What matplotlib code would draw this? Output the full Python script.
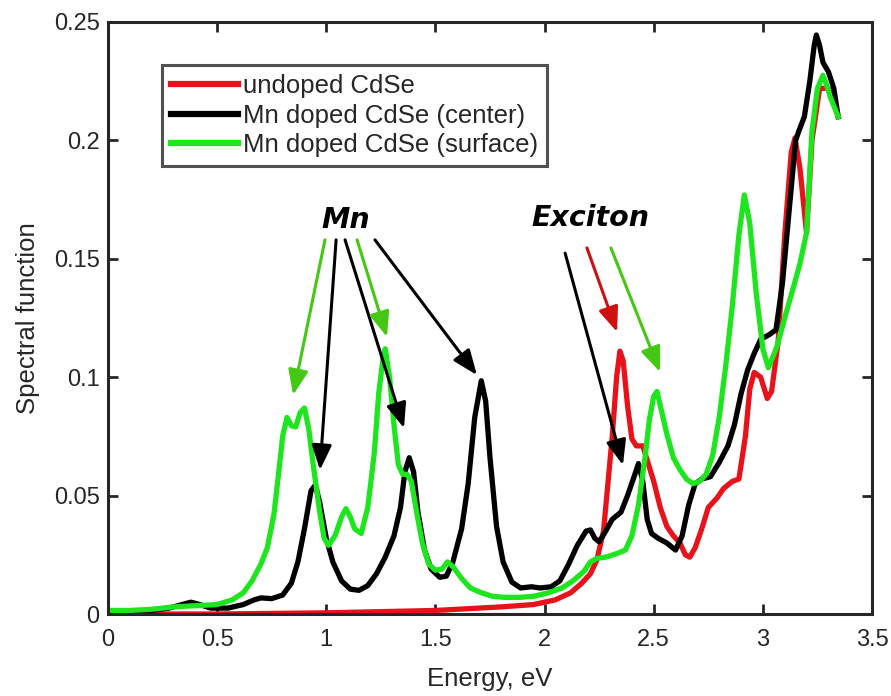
import matplotlib
matplotlib.use("Agg")
import matplotlib.pyplot as plt
from matplotlib.ticker import FuncFormatter

# --- data ---
undoped_x = [0.00, 0.50, 1.00, 1.50, 1.80, 1.95, 2.05, 2.12, 2.17, 2.21, 2.24, 2.27,
             2.29, 2.31, 2.33, 2.345, 2.36, 2.38, 2.40, 2.42, 2.45, 2.47, 2.50, 2.53,
             2.56, 2.59, 2.62, 2.645, 2.665, 2.69, 2.72, 2.75, 2.79, 2.82, 2.86, 2.89,
             2.92, 2.94, 2.96, 2.99, 3.02, 3.04, 3.07, 3.10, 3.13, 3.147, 3.17, 3.19,
             3.20, 3.225, 3.26, 3.30, 3.345]
undoped_y = [0.0, 0.0, 0.0005, 0.0015, 0.003, 0.004, 0.006, 0.009, 0.013, 0.017, 0.023, 0.035,
             0.055, 0.075, 0.100, 0.111, 0.107, 0.088, 0.074, 0.071, 0.071, 0.065, 0.056, 0.045,
             0.037, 0.033, 0.030, 0.025, 0.024, 0.028, 0.036, 0.045, 0.049, 0.053, 0.056, 0.057,
             0.075, 0.095, 0.102, 0.100, 0.091, 0.094, 0.115, 0.160, 0.195, 0.201, 0.188, 0.170,
             0.161, 0.200, 0.222, 0.222, 0.210]

center_x = [0.00, 0.10, 0.20, 0.28, 0.34, 0.38, 0.42, 0.47, 0.55, 0.62, 0.67, 0.70, 0.75,
            0.80, 0.84, 0.87, 0.90, 0.93, 0.95, 0.97, 1.00, 1.03, 1.07, 1.11, 1.15, 1.19,
            1.23, 1.27, 1.31, 1.34, 1.36, 1.38, 1.40, 1.42, 1.45, 1.48, 1.52, 1.55, 1.58,
            1.62, 1.65, 1.68, 1.71, 1.73, 1.75, 1.78, 1.81, 1.85, 1.89, 1.94, 1.98, 2.03,
            2.07, 2.11, 2.15, 2.19, 2.21, 2.23, 2.25, 2.28, 2.31, 2.35, 2.38, 2.41, 2.43,
            2.45, 2.47, 2.49, 2.52, 2.56, 2.60, 2.63, 2.66, 2.69, 2.72, 2.76, 2.80, 2.84,
            2.87, 2.90, 2.93, 2.96, 2.99, 3.03, 3.06, 3.09, 3.11, 3.135, 3.15, 3.165, 3.19,
            3.215, 3.235, 3.245, 3.26, 3.275, 3.30, 3.325, 3.345]
center_y = [0.001, 0.001, 0.0015, 0.0025, 0.004, 0.005, 0.004, 0.0025, 0.0025, 0.004, 0.006, 0.0068, 0.0065,
            0.008, 0.013, 0.022, 0.036, 0.052, 0.0545, 0.047, 0.032, 0.022, 0.014, 0.0105, 0.010, 0.012,
            0.017, 0.024, 0.033, 0.045, 0.060, 0.066, 0.060, 0.043, 0.027, 0.019, 0.0155, 0.016, 0.022,
            0.036, 0.055, 0.083, 0.0985, 0.090, 0.066, 0.037, 0.022, 0.0135, 0.011, 0.0115, 0.011, 0.0115,
            0.014, 0.021, 0.029, 0.035, 0.0355, 0.032, 0.0305, 0.035, 0.040, 0.043, 0.050, 0.058, 0.0635,
            0.056, 0.040, 0.034, 0.032, 0.030, 0.027, 0.033, 0.046, 0.055, 0.057, 0.058, 0.064, 0.071,
            0.080, 0.093, 0.103, 0.110, 0.116, 0.118, 0.120, 0.140, 0.160, 0.185, 0.200, 0.204, 0.210,
            0.225, 0.240, 0.2445, 0.240, 0.233, 0.229, 0.222, 0.210]

surface_x = [0.00, 0.10, 0.20, 0.30, 0.40, 0.50, 0.57, 0.62, 0.66, 0.70, 0.73, 0.76, 0.78,
             0.80, 0.82, 0.84, 0.86, 0.88, 0.90, 0.92, 0.94, 0.97, 0.99, 1.01, 1.04, 1.07,
             1.09, 1.11, 1.13, 1.16, 1.19, 1.22, 1.24, 1.26, 1.27, 1.29, 1.31, 1.33, 1.35,
             1.37, 1.39, 1.41, 1.44, 1.47, 1.50, 1.53, 1.555, 1.58, 1.62, 1.66, 1.71, 1.76,
             1.82, 1.88, 1.95, 2.02, 2.08, 2.13, 2.18, 2.21, 2.24, 2.28, 2.33, 2.37, 2.40,
             2.43, 2.46, 2.48, 2.50, 2.515, 2.53, 2.56, 2.59, 2.62, 2.65, 2.68, 2.71, 2.74,
             2.77, 2.80, 2.83, 2.86, 2.89, 2.915, 2.94, 2.97, 3.00, 3.025, 3.065, 3.10, 3.14,
             3.17, 3.20, 3.225, 3.25, 3.275, 3.29, 3.31, 3.345]
surface_y = [0.0015, 0.0015, 0.002, 0.003, 0.0035, 0.004, 0.006, 0.009, 0.014, 0.021, 0.028, 0.042, 0.058,
             0.075, 0.083, 0.0795, 0.079, 0.085, 0.087, 0.078, 0.063, 0.043, 0.032, 0.029, 0.033, 0.041,
             0.0445, 0.041, 0.036, 0.034, 0.045, 0.068, 0.093, 0.108, 0.112, 0.100, 0.080, 0.063, 0.059,
             0.059, 0.056, 0.045, 0.030, 0.021, 0.0185, 0.019, 0.022, 0.020, 0.015, 0.011, 0.009, 0.0075,
             0.007, 0.007, 0.0075, 0.009, 0.011, 0.014, 0.018, 0.022, 0.0235, 0.024, 0.0255, 0.027, 0.033,
             0.046, 0.066, 0.082, 0.092, 0.094, 0.088, 0.076, 0.066, 0.061, 0.057, 0.055, 0.056, 0.059,
             0.067, 0.083, 0.105, 0.130, 0.160, 0.177, 0.165, 0.135, 0.112, 0.104, 0.113, 0.125, 0.138,
             0.148, 0.161, 0.204, 0.222, 0.2275, 0.224, 0.218, 0.210]

labels = ["undoped CdSe", "Mn doped CdSe (center)", "Mn doped CdSe (surface)"]
line_colors = ["#e8121a", "#000000", "#1ee61e"]

# annotation arrows: (start x, start y, tip x, tip y, colour)
mn_label = (1.09, 0.1664)
mn_arrows = [
    (0.994, 0.158, 0.848, 0.0925, "#44c814"),
    (1.045, 0.158, 0.971, 0.0608, "#000000"),
    (1.086, 0.158, 1.356, 0.0785, "#000000"),
    (1.141, 0.158, 1.278, 0.1170, "#44c814"),
    (1.223, 0.158, 1.690, 0.1009, "#000000"),
]
exciton_label = (2.208, 0.1672)
exciton_arrows = [
    (2.094, 0.1524, 2.359, 0.0629, "#000000"),
    (2.194, 0.1546, 2.332, 0.1191, "#d01010"),
    (2.304, 0.1546, 2.529, 0.1022, "#44c814"),
]

plt.rcParams['font.family'] = ['Liberation Sans', 'DejaVu Sans']

fig = plt.figure(figsize=(8.91, 6.96), dpi=100)
ax = fig.add_axes([0.1212, 0.1178, 0.8575, 0.8506])

for xs, ys, lab, col in zip([undoped_x, center_x, surface_x],
                            [undoped_y, center_y, surface_y], labels, line_colors):
    ax.plot(xs, ys, color=col, lw=3.8, label=lab, solid_joinstyle='round')

ax.set_xlim(0, 3.5)
ax.set_ylim(0, 0.25)
ax.set_xticks([0, 0.5, 1, 1.5, 2, 2.5, 3, 3.5])
ax.set_yticks([0, 0.05, 0.1, 0.15, 0.2, 0.25])
fmt = FuncFormatter(lambda v, p: f"{v:g}")
ax.xaxis.set_major_formatter(fmt)
ax.yaxis.set_major_formatter(fmt)
ax.tick_params(direction='in', top=True, right=True, length=7, width=2,
               labelsize=17, labelcolor='#262626', color='#262626')
ax.tick_params(axis='x', pad=11)
ax.tick_params(axis='y', pad=6)
for s in ax.spines.values():
    s.set_linewidth(2.2)
    s.set_color('#262626')

ax.set_xlabel('Energy, eV', fontsize=18.5, color='#262626', labelpad=11)
ax.set_ylabel('Spectral function', fontsize=18.5, color='#262626', labelpad=10)

arrow_style = "-|>,head_length=0.8,head_width=0.32"
for x0, y0, x1, y1, c in mn_arrows + exciton_arrows:
    ax.annotate('', xy=(x1, y1), xytext=(x0, y0),
                arrowprops=dict(arrowstyle=arrow_style, color=c, lw=2.2,
                                mutation_scale=19, shrinkA=0, shrinkB=0))

ax.text(mn_label[0], mn_label[1], 'Mn', fontsize=20.5, fontweight='bold',
        fontstyle='italic', family='DejaVu Sans', ha='center', va='center')
ax.text(exciton_label[0], exciton_label[1], 'Exciton', fontsize=20.5, fontweight='bold',
        fontstyle='italic', family='DejaVu Sans', ha='center', va='center')

leg = ax.legend(loc='upper left', bbox_to_anchor=(0.0707, 0.9274), fontsize=18.5,
                frameon=True, fancybox=False, edgecolor='#262626', borderaxespad=0,
                handlelength=2.6, handletextpad=0.2, labelspacing=0.22, borderpad=0.35)
leg.get_frame().set_linewidth(2.2)
for h in leg.get_lines():
    h.set_linewidth(4.5)
for t in leg.get_texts():
    t.set_color('#262626')

fig.savefig('out.png', dpi=100)
